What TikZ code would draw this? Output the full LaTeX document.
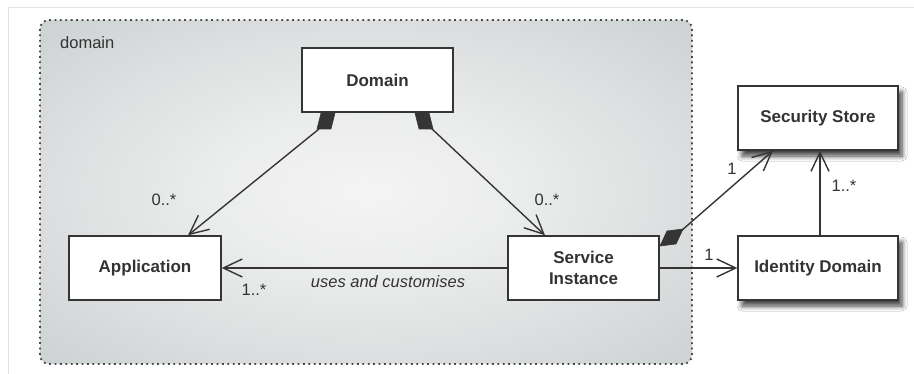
\documentclass[tikz,border=0pt]{standalone}
\usepackage{fontspec}
\setmainfont{Liberation Sans}
\usetikzlibrary{arrows.meta,shadows.blur,calc}
\definecolor{lncol}{HTML}{353535}
\definecolor{txtcol}{HTML}{333333}
\definecolor{framecol}{HTML}{E2E2E2}
\definecolor{dotcol}{HTML}{4A4A4A}
\definecolor{shA}{HTML}{F4F4F4}
\definecolor{shB}{HTML}{EBECEC}
\definecolor{shC}{HTML}{BCC1C4}
\definecolor{shD}{HTML}{A9AEB2}
\pgfdeclareradialshading{domshade}{\pgfpoint{0bp}{0bp}}{color(0bp)=(shA); color(12bp)=(shB); color(50bp)=(shC); color(72bp)=(shD)}
\tikzset{
  cls/.style={draw=lncol, line width=1.4pt, fill=white, rectangle, align=center,
    font=\fontsize{17}{19}\selectfont\bfseries, text=txtcol, inner sep=0pt},
  shadowed/.style={blur shadow={shadow xshift=4pt, shadow yshift=-6pt, shadow opacity=75, shadow blur steps=7, shadow blur radius=5pt}},
  conn/.style={draw=lncol, line width=1.4pt},
  openarrow/.style={-{Straight Barb[length=19pt,width=18pt,line width=1.4pt]}},
  mult/.style={font=\fontsize{16.5}{19}\selectfont, text=txtcol, inner sep=0pt},
  dia/.style={fill=lncol, draw=lncol, line width=0.6pt, line join=round}
}
\begin{document}
\begin{tikzpicture}[x=1pt,y=-1pt]
\useasboundingbox (0,0) rectangle (914,374);
\fill[white] (0,0) rectangle (914,374);
% faint frame
\draw[framecol, line width=1pt] (8,374) -- (8,8) -- (914,8);
% domain region
\path[shading=domshade, rounded corners=9pt] (40,20) rectangle (692,364);
\draw[dotcol, line width=1.8pt, dash pattern=on 1.8pt off 3.6pt, rounded corners=9pt] (40,20) rectangle (692,364);
\node[mult, anchor=west] (dlabel) at (60,43) {domain};
% classes
\node[cls, minimum width=151pt, minimum height=64pt] (dom) at (377.5,80) {Domain};
\node[cls, minimum width=152pt, minimum height=64pt] (app) at (145,268) {Application};
\node[cls, minimum width=151pt, minimum height=64pt, font=\fontsize{17}{21}\selectfont\bfseries] (si) at (583.5,268) {Service\\Instance};
\node[cls, shadowed, minimum width=160pt, minimum height=64pt] (sec) at (818,118) {Security Store};
\node[cls, shadowed, minimum width=160pt, minimum height=64pt] (idd) at (818,268) {Identity Domain};
% composition diamonds
\fill[dia] (321,113) -- (335,113) -- (331,129) -- (317,129) -- cycle;
\fill[dia] (415,113) -- (429,113) -- (433,129) -- (419,129) -- cycle;
\fill[dia] (660,246) -- (667,231) -- (683,229) -- (676,244) -- cycle;
\coordinate (dA) at (319,129);
\coordinate (dS) at (431,128);
\coordinate (dSec) at (681,231);
% connectors
\draw[conn, openarrow] (dA) -- (app.north -| 188,0);
\draw[conn, openarrow] (dS) -- (si.north -| 545,0);
\draw[conn, openarrow] (si.west) -- (app.east);
\draw[conn, openarrow] (dSec) -- (sec.south -| 773,0);
\draw[conn, openarrow] (si.east) -- (idd.west);
\draw[conn, openarrow] (idd.north -| 820,0) -- (sec.south -| 820,0);
% multiplicities
\node[mult] (m1) at (164,200) {0..*};
\node[mult] (m2) at (547,200) {0..*};
\node[mult] (m3) at (254,290) {1..*};
\node[mult, font=\fontsize{16.5}{19}\selectfont\itshape] (m4) at (388,282) {uses and customises};
\node[mult] (m5) at (732,169) {1};
\node[mult] (m6) at (709,255) {1};
\node[mult] (m7) at (844,186) {1..*};
\end{tikzpicture}
\end{document}
